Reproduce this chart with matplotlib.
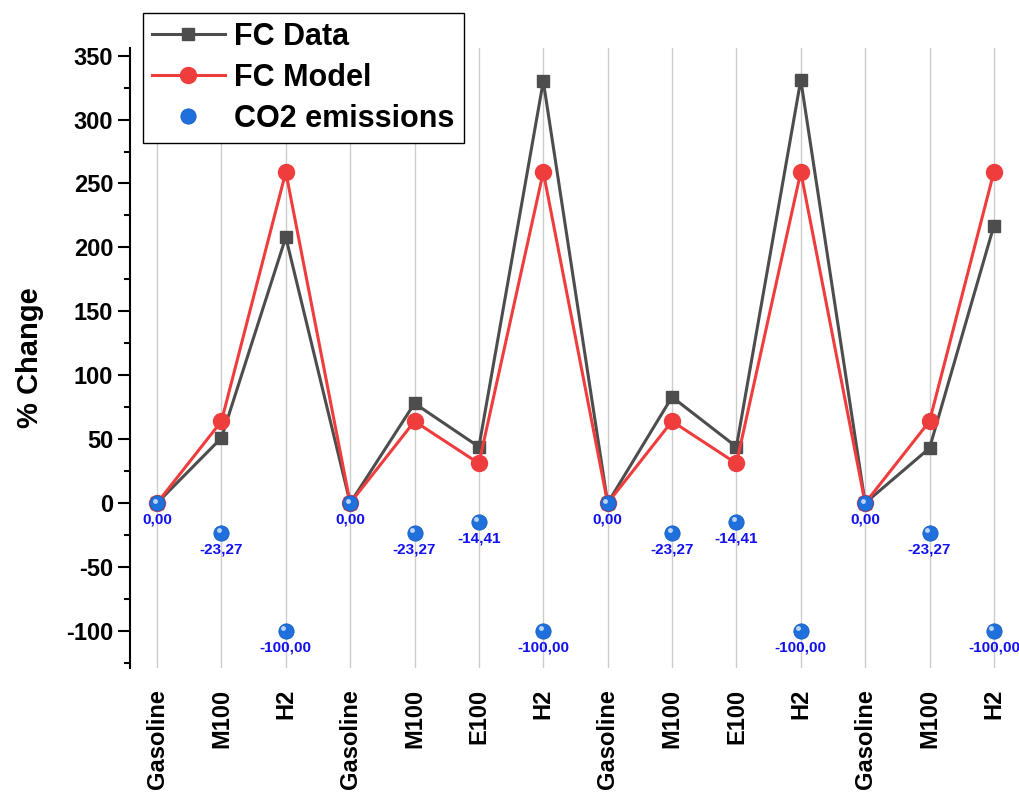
import numpy as np
from matplotlib import pyplot as plt
from matplotlib import ticker as tk
from matplotlib import transforms as mtrans

fuels = ['Gasoline', 'M100', 'H2', 'Gasoline', 'M100', 'E100', 'H2',
         'Gasoline', 'M100', 'E100', 'H2', 'Gasoline', 'M100', 'H2']
fc_data = [0, 51, 208, 0, 78, 44, 330, 0, 83, 44, 331, 0, 43, 217]
fc_model = [0, 64, 259, 0, 64, 31, 259, 0, 64, 31, 259, 0, 64, 259]
co2 = [0, -23.27, -100, 0, -23.27, -14.41, -100,
       0, -23.27, -14.41, -100, 0, -23.27, -100]

GRAY = '#4d4d4d'
RED = '#ef3d3d'
BLUE = '#1f6fdc'

plt.rcParams.update({'font.family': ['Liberation Sans', 'DejaVu Sans'],
                     'font.weight': 'bold',
                     'axes.unicode_minus': False})

fig = plt.figure(figsize=(10.19, 8.05), dpi=100)
ax = fig.add_axes([0.1276, 0.1702, 0.8724, 0.7702])

x = np.arange(len(fuels))

ax.plot(x, fc_data, '-s', color=GRAY, linewidth=2.2, markersize=8.5,
        label='FC Data', zorder=3)
ax.plot(x, fc_model, '-o', color=RED, linewidth=2.2, markersize=11.5,
        label='FC Model', zorder=4)
ax.plot(x, co2, 'o', color=BLUE, markersize=11, markeredgecolor='#1a5fc0',
        markeredgewidth=0.6, label='CO2 emissions', zorder=5)
# little highlight so the blue dots look like spheres
shine = mtrans.offset_copy(ax.transData, fig=fig, x=-1.8, y=1.8, units='points')
ax.plot(x, co2, 'o', color='white', alpha=0.7, markersize=3.5,
        markeredgewidth=0, transform=shine, zorder=6)

for xi, v in zip(x, co2):
    ax.annotate(f'{v:.2f}'.replace('.', ','), (xi, v), xytext=(0, -12),
                textcoords='offset points', ha='center', va='center',
                fontsize=11, fontweight='bold', color='#1010f0', zorder=7)

ax.set_xlim(-0.42, 13.39)
ax.set_ylim(-129, 356)
ax.set_xticks(x)
ax.set_xticklabels(fuels, rotation=90, fontsize=17, fontweight='bold')
ax.tick_params(axis='x', length=0, pad=15)
ax.grid(axis='x', color='#cccccc', linewidth=1, zorder=0)
ax.set_axisbelow(True)

ax.yaxis.set_major_locator(tk.MultipleLocator(50))
ax.yaxis.set_minor_locator(tk.MultipleLocator(25))
ax.tick_params(axis='y', which='major', length=8.5, width=1.5, labelsize=17)
ax.tick_params(axis='y', which='minor', length=4.5, width=1.5)
for lbl in ax.get_yticklabels():
    lbl.set_fontweight('bold')
ax.set_ylabel('% Change', fontsize=21, fontweight='bold', labelpad=16)

for side in ['top', 'right', 'bottom']:
    ax.spines[side].set_visible(False)
ax.spines['left'].set_linewidth(1.5)

leg = fig.legend(loc='upper left', bbox_to_anchor=(0.140, 0.984),
                 bbox_transform=fig.transFigure, borderaxespad=0,
                 fontsize=22, frameon=True, fancybox=False, framealpha=1,
                 edgecolor='black', handlelength=2.4, labelspacing=0.36,
                 borderpad=0.3, handletextpad=0.3)
leg.get_frame().set_linewidth(1)
for t in leg.get_texts():
    t.set_fontweight('bold')

fig.savefig('out.png', dpi=100)
